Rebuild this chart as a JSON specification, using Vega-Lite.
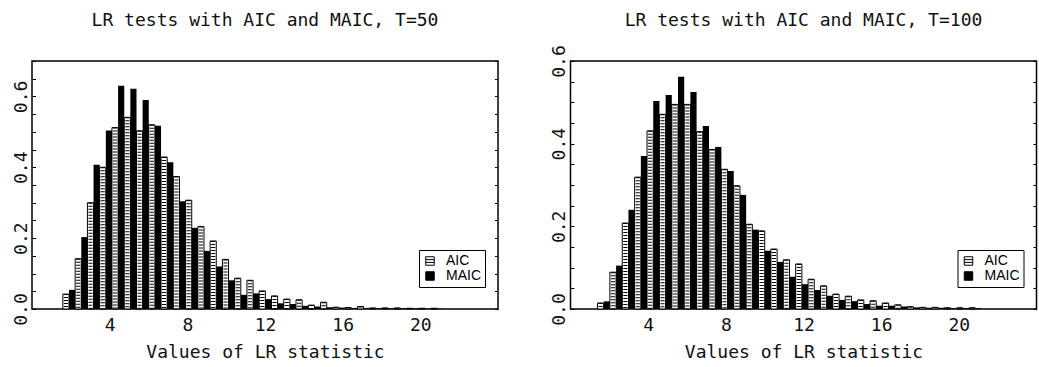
{
  "$schema": "https://vega.github.io/schema/vega-lite/v6.json",
  "background": "white",
  "padding": {"left": 11, "top": 10, "right": 2, "bottom": 5},
  "spacing": 49.5,
  "datasets": {
    "t50": [
      {"lo": 1.590, "mid": 1.906, "hi": 2.222, "AIC": 0.042, "MAIC": 0.054},
      {"lo": 2.222, "mid": 2.538, "hi": 2.854, "AIC": 0.142, "MAIC": 0.203},
      {"lo": 2.854, "mid": 3.170, "hi": 3.486, "AIC": 0.300, "MAIC": 0.407},
      {"lo": 3.486, "mid": 3.802, "hi": 4.118, "AIC": 0.400, "MAIC": 0.504},
      {"lo": 4.118, "mid": 4.434, "hi": 4.750, "AIC": 0.512, "MAIC": 0.630},
      {"lo": 4.750, "mid": 5.066, "hi": 5.382, "AIC": 0.541, "MAIC": 0.622},
      {"lo": 5.382, "mid": 5.698, "hi": 6.014, "AIC": 0.503, "MAIC": 0.590},
      {"lo": 6.014, "mid": 6.330, "hi": 6.646, "AIC": 0.520, "MAIC": 0.517},
      {"lo": 6.646, "mid": 6.962, "hi": 7.278, "AIC": 0.429, "MAIC": 0.414},
      {"lo": 7.278, "mid": 7.594, "hi": 7.910, "AIC": 0.374, "MAIC": 0.304},
      {"lo": 7.910, "mid": 8.226, "hi": 8.542, "AIC": 0.307, "MAIC": 0.229},
      {"lo": 8.542, "mid": 8.858, "hi": 9.174, "AIC": 0.233, "MAIC": 0.164},
      {"lo": 9.174, "mid": 9.490, "hi": 9.806, "AIC": 0.192, "MAIC": 0.120},
      {"lo": 9.806, "mid": 10.122, "hi": 10.438, "AIC": 0.140, "MAIC": 0.081},
      {"lo": 10.438, "mid": 10.754, "hi": 11.070, "AIC": 0.087, "MAIC": 0.040},
      {"lo": 11.070, "mid": 11.386, "hi": 11.702, "AIC": 0.081, "MAIC": 0.044},
      {"lo": 11.702, "mid": 12.018, "hi": 12.334, "AIC": 0.051, "MAIC": 0.028},
      {"lo": 12.334, "mid": 12.650, "hi": 12.966, "AIC": 0.037, "MAIC": 0.016},
      {"lo": 12.966, "mid": 13.282, "hi": 13.598, "AIC": 0.028, "MAIC": 0.014},
      {"lo": 13.598, "mid": 13.914, "hi": 14.230, "AIC": 0.026, "MAIC": 0.009},
      {"lo": 14.230, "mid": 14.546, "hi": 14.862, "AIC": 0.011, "MAIC": 0.007},
      {"lo": 14.862, "mid": 15.178, "hi": 15.494, "AIC": 0.019, "MAIC": 0.005},
      {"lo": 15.494, "mid": 15.810, "hi": 16.126, "AIC": 0.005, "MAIC": 0.004},
      {"lo": 16.126, "mid": 16.442, "hi": 16.758, "AIC": 0.004, "MAIC": 0.003},
      {"lo": 16.758, "mid": 17.074, "hi": 17.390, "AIC": 0.007, "MAIC": 0.003},
      {"lo": 17.390, "mid": 17.706, "hi": 18.022, "AIC": 0.003, "MAIC": 0.002},
      {"lo": 18.022, "mid": 18.338, "hi": 18.654, "AIC": 0.003, "MAIC": 0.002},
      {"lo": 18.654, "mid": 18.970, "hi": 19.286, "AIC": 0.003, "MAIC": 0.002},
      {"lo": 19.286, "mid": 19.602, "hi": 19.918, "AIC": 0.002, "MAIC": 0.002},
      {"lo": 19.918, "mid": 20.234, "hi": 20.550, "AIC": 0.002, "MAIC": 0.001},
      {"lo": 20.550, "mid": 20.866, "hi": 21.182, "AIC": 0.002, "MAIC": 0.001}
    ],
    "t100": [
      {"lo": 1.390, "mid": 1.709, "hi": 2.028, "AIC": 0.0145, "MAIC": 0.0185},
      {"lo": 2.028, "mid": 2.347, "hi": 2.666, "AIC": 0.089, "MAIC": 0.105},
      {"lo": 2.666, "mid": 2.985, "hi": 3.304, "AIC": 0.208, "MAIC": 0.240},
      {"lo": 3.304, "mid": 3.623, "hi": 3.942, "AIC": 0.319, "MAIC": 0.370},
      {"lo": 3.942, "mid": 4.261, "hi": 4.580, "AIC": 0.431, "MAIC": 0.503},
      {"lo": 4.580, "mid": 4.899, "hi": 5.218, "AIC": 0.471, "MAIC": 0.518},
      {"lo": 5.218, "mid": 5.537, "hi": 5.856, "AIC": 0.495, "MAIC": 0.562},
      {"lo": 5.856, "mid": 6.175, "hi": 6.494, "AIC": 0.495, "MAIC": 0.525},
      {"lo": 6.494, "mid": 6.813, "hi": 7.132, "AIC": 0.429, "MAIC": 0.443},
      {"lo": 7.132, "mid": 7.451, "hi": 7.770, "AIC": 0.386, "MAIC": 0.392},
      {"lo": 7.770, "mid": 8.089, "hi": 8.408, "AIC": 0.338, "MAIC": 0.334},
      {"lo": 8.408, "mid": 8.727, "hi": 9.046, "AIC": 0.298, "MAIC": 0.276},
      {"lo": 9.046, "mid": 9.365, "hi": 9.684, "AIC": 0.205, "MAIC": 0.192},
      {"lo": 9.684, "mid": 10.003, "hi": 10.322, "AIC": 0.189, "MAIC": 0.141},
      {"lo": 10.322, "mid": 10.641, "hi": 10.960, "AIC": 0.145, "MAIC": 0.114},
      {"lo": 10.960, "mid": 11.279, "hi": 11.598, "AIC": 0.119, "MAIC": 0.078},
      {"lo": 11.598, "mid": 11.917, "hi": 12.236, "AIC": 0.109, "MAIC": 0.060},
      {"lo": 12.236, "mid": 12.555, "hi": 12.874, "AIC": 0.072, "MAIC": 0.046},
      {"lo": 12.874, "mid": 13.193, "hi": 13.512, "AIC": 0.056, "MAIC": 0.032},
      {"lo": 13.512, "mid": 13.831, "hi": 14.150, "AIC": 0.036, "MAIC": 0.022},
      {"lo": 14.150, "mid": 14.469, "hi": 14.788, "AIC": 0.031, "MAIC": 0.019},
      {"lo": 14.788, "mid": 15.107, "hi": 15.426, "AIC": 0.022, "MAIC": 0.012},
      {"lo": 15.426, "mid": 15.745, "hi": 16.064, "AIC": 0.020, "MAIC": 0.008},
      {"lo": 16.064, "mid": 16.383, "hi": 16.702, "AIC": 0.0145, "MAIC": 0.008},
      {"lo": 16.702, "mid": 17.021, "hi": 17.340, "AIC": 0.010, "MAIC": 0.006},
      {"lo": 17.340, "mid": 17.659, "hi": 17.978, "AIC": 0.0056, "MAIC": 0.004},
      {"lo": 17.978, "mid": 18.297, "hi": 18.616, "AIC": 0.004, "MAIC": 0.003},
      {"lo": 18.616, "mid": 18.935, "hi": 19.254, "AIC": 0.004, "MAIC": 0.003},
      {"lo": 19.254, "mid": 19.573, "hi": 19.892, "AIC": 0.003, "MAIC": 0.002},
      {"lo": 19.892, "mid": 20.211, "hi": 20.530, "AIC": 0.003, "MAIC": 0.002},
      {"lo": 20.530, "mid": 20.849, "hi": 21.168, "AIC": 0.003, "MAIC": 0.002}
    ]
  },
  "resolve": {"scale": {"fill": "independent"}},
  "hconcat": [
    {
      "width": 466,
      "height": 248,
      "title": {"text": "LR tests with AIC and MAIC, T=50", "offset": 31},
      "data": {"name": "t50"},
      "transform": [{"fold": ["AIC", "MAIC"], "as": ["series", "value"]}],
      "resolve": {"axis": {"y": "independent"}},
      "layer": [
        {
          "transform": [{"filter": "datum.series === 'AIC'"}],
          "mark": {"type": "bar", "stroke": "black", "strokeWidth": 1},
          "encoding": {
            "x": {"field": "lo", "type": "quantitative", "scale": {"domain": [0, 24], "nice": false}, "axis": {"title": "Values of LR statistic", "values": [4, 8, 12, 16, 20]}},
            "x2": {"field": "mid"},
            "y": {"field": "value", "type": "quantitative", "stack": null, "scale": {"domain": [0, 0.7], "nice": false}, "axis": {"orient": "left", "title": null, "values": [0, 0.05, 0.1, 0.15, 0.2, 0.25, 0.3, 0.35, 0.4, 0.45, 0.5, 0.55, 0.6, 0.65, 0.7]}},
            "y2": {"value": "height"},
            "fill": {"field": "series", "type": "nominal", "scale": {"domain": ["AIC", "MAIC"], "range": ["white", "black"]}, "legend": {"title": null, "encode": {"symbols": {"update": {"shape": {"signal": "datum.value === 'AIC' ? 'M-1,-1H1V1H-1Z M-1,-0.33H1 M-1,0.33H1' : 'square'"}}}}}}
          }
        },
        {
          "transform": [{"filter": "datum.series === 'AIC'"}],
          "mark": {"type": "rule", "stroke": "black", "strokeWidth": 4.2, "strokeDash": [1, 2], "xOffset": 3.07},
          "encoding": {
            "x": {"field": "lo", "type": "quantitative", "axis": {"title": "Values of LR statistic", "values": [4, 8, 12, 16, 20]}},
            "y": {"field": "value", "type": "quantitative", "stack": null, "axis": null},
            "y2": {"value": "height"}
          }
        },
        {
          "transform": [{"filter": "datum.series === 'MAIC'"}],
          "mark": {"type": "bar"},
          "encoding": {
            "x": {"field": "mid", "type": "quantitative", "axis": {"title": "Values of LR statistic", "values": [4, 8, 12, 16, 20]}},
            "x2": {"field": "hi"},
            "y": {"field": "value", "type": "quantitative", "stack": null, "axis": {"orient": "right", "labels": false, "title": null, "values": [0, 0.05, 0.1, 0.15, 0.2, 0.25, 0.3, 0.35, 0.4, 0.45, 0.5, 0.55, 0.6, 0.65, 0.7]}},
            "y2": {"value": "height"},
            "fill": {"field": "series", "type": "nominal", "legend": {"title": null, "encode": {"symbols": {"update": {"shape": {"signal": "datum.value === 'AIC' ? 'M-1,-1H1V1H-1Z M-1,-0.33H1 M-1,0.33H1' : 'square'"}}}}}}
          }
        }
      ]
    },
    {
      "width": 466,
      "height": 248,
      "title": {"text": "LR tests with AIC and MAIC, T=100", "offset": 15},
      "data": {"name": "t100"},
      "transform": [{"fold": ["AIC", "MAIC"], "as": ["series", "value"]}],
      "resolve": {"axis": {"y": "independent"}},
      "layer": [
        {
          "transform": [{"filter": "datum.series === 'AIC'"}],
          "mark": {"type": "bar", "stroke": "black", "strokeWidth": 1},
          "encoding": {
            "x": {"field": "lo", "type": "quantitative", "scale": {"domain": [0, 24], "nice": false}, "axis": {"title": "Values of LR statistic", "values": [4, 8, 12, 16, 20]}},
            "x2": {"field": "mid"},
            "y": {"field": "value", "type": "quantitative", "stack": null, "scale": {"domain": [0, 0.6], "nice": false}, "axis": {"orient": "left", "title": null, "values": [0, 0.05, 0.1, 0.15, 0.2, 0.25, 0.3, 0.35, 0.4, 0.45, 0.5, 0.55, 0.6]}},
            "y2": {"value": "height"},
            "fill": {"field": "series", "type": "nominal", "scale": {"domain": ["AIC", "MAIC"], "range": ["white", "black"]}, "legend": {"title": null, "encode": {"symbols": {"update": {"shape": {"signal": "datum.value === 'AIC' ? 'M-1,-1H1V1H-1Z M-1,-0.33H1 M-1,0.33H1' : 'square'"}}}}}}
          }
        },
        {
          "transform": [{"filter": "datum.series === 'AIC'"}],
          "mark": {"type": "rule", "stroke": "black", "strokeWidth": 4.2, "strokeDash": [1, 2], "xOffset": 3.1},
          "encoding": {
            "x": {"field": "lo", "type": "quantitative", "axis": {"title": "Values of LR statistic", "values": [4, 8, 12, 16, 20]}},
            "y": {"field": "value", "type": "quantitative", "stack": null, "axis": null},
            "y2": {"value": "height"}
          }
        },
        {
          "transform": [{"filter": "datum.series === 'MAIC'"}],
          "mark": {"type": "bar"},
          "encoding": {
            "x": {"field": "mid", "type": "quantitative", "axis": {"title": "Values of LR statistic", "values": [4, 8, 12, 16, 20]}},
            "x2": {"field": "hi"},
            "y": {"field": "value", "type": "quantitative", "stack": null, "axis": {"orient": "right", "labels": false, "title": null, "values": [0, 0.05, 0.1, 0.15, 0.2, 0.25, 0.3, 0.35, 0.4, 0.45, 0.5, 0.55, 0.6]}},
            "y2": {"value": "height"},
            "fill": {"field": "series", "type": "nominal", "legend": {"title": null, "encode": {"symbols": {"update": {"shape": {"signal": "datum.value === 'AIC' ? 'M-1,-1H1V1H-1Z M-1,-0.33H1 M-1,0.33H1' : 'square'"}}}}}}
          }
        }
      ]
    }
  ],
  "config": {
    "view": {"stroke": "black", "strokeWidth": 1.5},
    "title": {"font": "DejaVu Sans Mono", "fontSize": 18, "fontWeight": "normal", "color": "#111", "anchor": "middle", "frame": "group"},
    "axis": {"grid": false, "domain": false, "labelFont": "DejaVu Sans Mono", "labelFontSize": 18, "labelColor": "#111", "titleFont": "DejaVu Sans Mono", "titleFontSize": 18, "titleFontWeight": "normal", "titleColor": "#111", "tickColor": "black", "tickWidth": 1, "labelFlush": false, "labelOverlap": false},
    "axisX": {"ticks": false, "labelPadding": 7, "titlePadding": 9},
    "axisY": {"tickSize": -3.5, "labelAngle": 270, "labelAlign": "center", "labelBaseline": "bottom", "labelPadding": 5.5, "labelExpr": "abs(round(datum.value*100) % 20) == 0 ? format(datum.value, '.1f') : ''"},
    "legend": {"orient": "none", "legendX": 387, "legendY": 189, "strokeColor": "black", "fillColor": "white", "padding": 4, "symbolSize": 72, "symbolStrokeColor": "black", "symbolStrokeWidth": 1, "symbolType": "square", "labelFont": "Liberation Sans", "labelFontSize": 14, "labelColor": "black", "labelOffset": 9, "rowPadding": 1}
  }
}
